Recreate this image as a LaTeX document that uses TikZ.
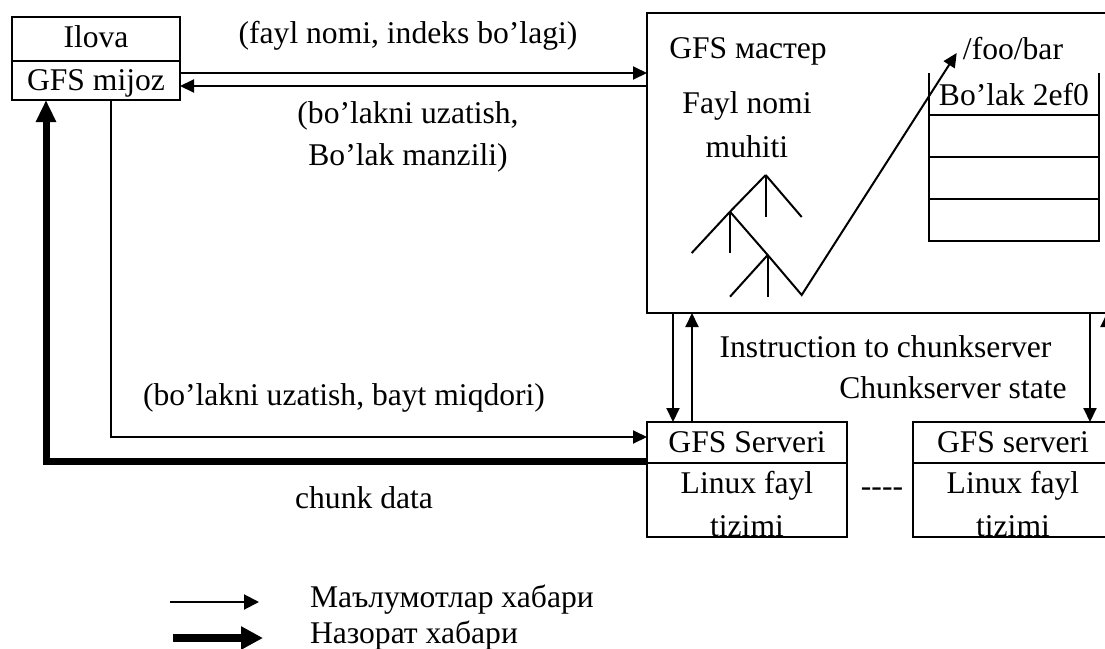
\documentclass[tikz,border=0pt]{standalone}
\usepackage{fontspec}
\setmainfont{Liberation Serif}
\usetikzlibrary{arrows.meta}
\begin{document}
\begin{tikzpicture}[x=0.5pt,y=-0.5pt,
  every node/.style={inner sep=0pt, outer sep=0pt},
  txt/.style={anchor=base, font=\fontsize{15.8pt}{19pt}\selectfont},
  txtl/.style={anchor=base west, font=\fontsize{15.8pt}{19pt}\selectfont},
  cell/.style={draw, line width=1pt, rectangle},
  ln/.style={line width=1pt},
  arr/.style={line width=1pt, -{Triangle[length=7pt,width=6.5pt]}},
  thickarr/.style={line width=3.5pt, line join=miter, -{Triangle[length=11pt,width=9.5pt]}},
  legthin/.style={line width=1pt, -{Triangle[length=7.5pt,width=7.5pt]}},
  legthick/.style={line width=4pt, -{Triangle[length=11pt,width=11pt]}}]
\useasboundingbox (0,0) rectangle (1105,649);
\clip (0,0) rectangle (1105,649);

% client
\node[cell, minimum width=84pt, minimum height=22pt] (ilova) at (96,39) {};
\node[cell, minimum width=84pt, minimum height=19.5pt] (mijoz) at (96,80.5) {};
\node[txt] (ilovaT) at (96,47) {Ilova};
\node[txt] (mijozT) at (96,90) {GFS mijoz};

% master
\node[cell, minimum width=236.5pt, minimum height=150pt] (master) at (883.5,163) {};
\node[txt] (masterT) at (748,58) {GFS мастер};
\node[txt] (fayl1) at (747,113) {Fayl nomi};
\node[txt] (fayl2) at (747,157) {muhiti};
\node[txt] (foo) at (1013,59) {/foo/bar};

% chunk table
\draw[ln] (929,73) -- (929,241) -- (1099,241) -- (1099,73);
\draw[ln] (929,115) -- (1099,115);
\draw[ln] (929,157) -- (1099,157);
\draw[ln] (929,199) -- (1099,199);
\node[txt] (bolak) at (1014,105) {Bo’lak 2ef0};

% namespace tree
\coordinate (t1) at (765.7,175);
\coordinate (t2) at (730,211.7);
\coordinate (t3) at (767.7,255);
\coordinate (t4) at (801.7,295);
\coordinate (fooTip) at (956.7,53);
\draw[ln] (t1) -- (765.7,217);
\draw[ln] (t1) -- (801.7,217);
\draw[ln] (t1) -- (t2);
\draw[ln] (t2) -- (730,253);
\draw[ln] (t2) -- (691.7,253);
\draw[ln] (t3) -- (767.7,296.7);
\draw[ln] (t3) -- (730,296.7);
\draw[arr] (t2) -- (t3) -- (t4) -- (fooTip);

% chunkservers
\node[cell, minimum width=100pt, minimum height=20.5pt] (srvA) at (747,442.5) {};
\node[cell, minimum width=100pt, minimum height=37pt] (srvAb) at (747,500) {};
\node[txt] (srvAT) at (747,452) {GFS Serveri};
\node[txt] (srvAL1) at (747,493) {Linux fayl};
\node[txt] (srvAL2) at (747,536) {tizimi};

\node[cell, minimum width=103.5pt, minimum height=20.5pt] (srvB) at (1016.5,442.5) {};
\node[cell, minimum width=103.5pt, minimum height=37pt] (srvBb) at (1016.5,500) {};
\node[txt] (srvBT) at (1013,452) {GFS serveri};
\node[txt] (srvBL1) at (1013,493) {Linux fayl};
\node[txt] (srvBL2) at (1013,536) {tizimi};
\node[txt] (dots) at (882,496) {-{}-{}-{}-};

% client <-> master
\coordinate (q1) at ([yshift=3.75pt]mijoz.east);
\coordinate (q2) at ([yshift=-2.75pt]mijoz.east);
\draw[arr] (q1) -- (q1 -| master.west);
\draw[arr] (q2 -| master.west) -- (q2);
\node[txt] (lab1) at (408,43) {(fayl nomi, indeks bo’lagi)};
\node[txt] (lab2) at (408,123) {(bo’lakni uzatish,};
\node[txt] (lab3) at (408,165) {Bo’lak manzili)};

% master <-> chunkservers
\coordinate (v1) at ([xshift=13pt]srvA.north west);
\coordinate (v2) at ([xshift=22.5pt]srvA.north west);
\draw[arr] (v1 |- master.south) -- (v1);
\draw[arr] (v2) -- (v2 |- master.south);
\coordinate (v3) at ([xshift=88.5pt]srvB.north west);
\coordinate (v4) at ([xshift=97pt]srvB.north west);
\draw[arr] (v3 |- master.south) -- (v3);
\draw[arr] (v4) -- (v4 |- master.south);
\node[txt] (instr) at (885.5,357) {Instruction to chunkserver};
\node[txt] (state) at (953,398) {Chunkserver state};

% client <-> chunkserver
\coordinate (w1) at ([xshift=7.5pt]mijoz.south);
\coordinate (w2) at ([yshift=2.75pt]srvA.west);
\draw[arr] (w1) |- (w2);
\node[txtl] (lab4) at (143,405) {(bo’lakni uzatish, bayt miqdori)};
\coordinate (k1) at ([yshift=1pt]srvA.south west);
\coordinate (k2) at ([xshift=-25pt]mijoz.south);
\draw[thickarr] (k1) -| (k2);
\node[txt] (chunk) at (364,508) {chunk data};

% legend
\coordinate (la1) at (170,602);
\coordinate (la2) at (259,602);
\coordinate (lb1) at (173,638);
\coordinate (lb2) at (263,638);
\draw[legthin] (la1) -- (la2);
\draw[legthick] (lb1) -- (lb2);
\node[txtl] (leg1) at (310,607) {Маълумотлар хабари};
\node[txtl] (leg2) at (310,643) {Назорат хабари};
\end{tikzpicture}
\end{document}
